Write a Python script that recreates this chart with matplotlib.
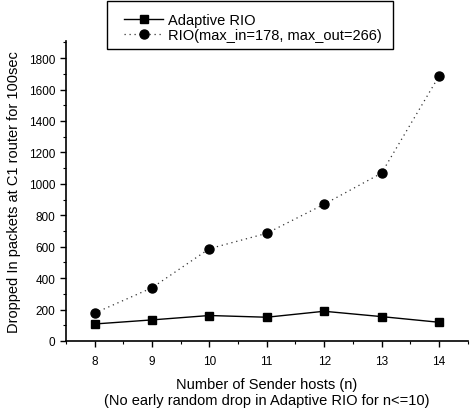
import matplotlib
matplotlib.use("Agg")
import matplotlib.pyplot as plt
from matplotlib.ticker import MultipleLocator
from matplotlib.patches import Rectangle

plt.rcParams['font.family'] = ['Liberation Sans', 'DejaVu Sans']

n_hosts = [8, 9, 10, 11, 12, 13, 14]
adaptive_rio = [108, 134, 162, 151, 189, 155, 119]
rio = [177, 338, 587, 685, 870, 1068, 1685]

W, H = 470, 414
fig = plt.figure(figsize=(W / 100, H / 100), dpi=100)
ax = fig.add_axes([0.140, 0.174, 0.855, 0.725])

ax.plot(n_hosts, adaptive_rio, '-s', color='black', lw=1.0, ms=6, label='Adaptive RIO')
ax.plot(n_hosts, rio, marker='o', linestyle=(0, (1, 3)), color='#333333', lw=0.9, ms=6.5,
        mfc='black', mec='black', label='RIO(max_in=178, max_out=266)')

ax.set_xlim(7.5, 14.5)
ax.set_ylim(0, 1910)
ax.set_xticks(n_hosts)
ax.xaxis.set_minor_locator(MultipleLocator(0.5))
ax.yaxis.set_major_locator(MultipleLocator(200))
ax.yaxis.set_minor_locator(MultipleLocator(100))
ax.spines['top'].set_visible(False)
ax.spines['right'].set_visible(False)
ax.spines['left'].set_linewidth(1.2)
ax.spines['bottom'].set_linewidth(1.2)
ax.tick_params(axis='both', which='major', direction='out', length=4, width=1, labelsize=8.5)
ax.tick_params(axis='x', which='major', pad=6)
ax.tick_params(axis='both', which='minor', direction='out', length=2.5, width=0.8)

ax.set_xlabel('Number of Sender hosts (n)\n(No early random drop in Adaptive RIO for n<=10)',
              fontsize=10.5, labelpad=7)
ax.set_ylabel('Dropped In packets at C1 router for 100sec', fontsize=10.5, labelpad=6)

# legend frame drawn as a figure rectangle, legend entries placed inside it
fig.patches.append(Rectangle((107 / W, 1 - 50 / H), 286 / W, 48 / H,
                             transform=fig.transFigure, fill=True, facecolor='white',
                             edgecolor='black', lw=1.0, zorder=5))
leg = fig.legend(loc='upper left', bbox_to_anchor=(124 / W, 1 - 14 / H),
                 frameon=False, fontsize=10.5, handlelength=2.7, handletextpad=0.35,
                 borderpad=0, borderaxespad=0, labelspacing=0.05)
leg.set_zorder(6)

fig.savefig('out.png', dpi=100)
